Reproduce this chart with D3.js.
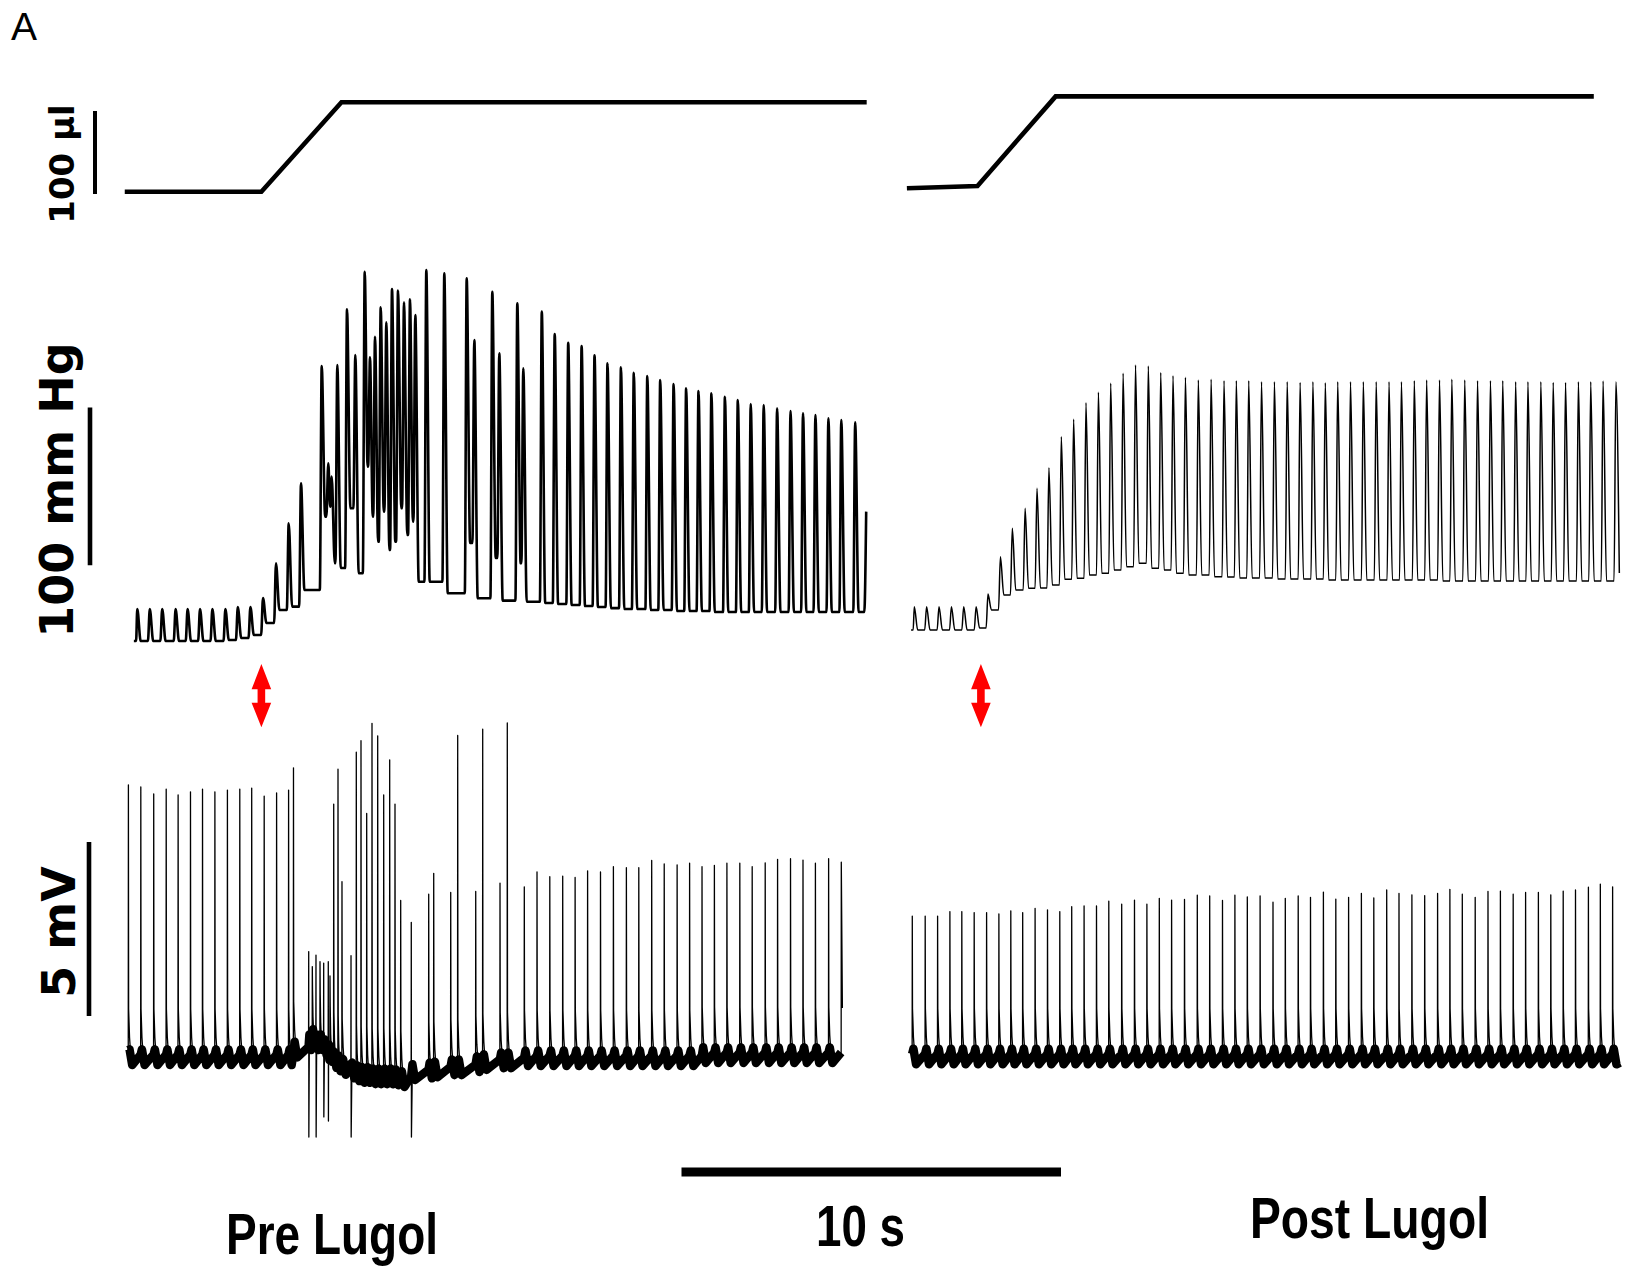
<!DOCTYPE html>
<html>
<head>
<meta charset="utf-8">
<script src="https://cdn.jsdelivr.net/npm/d3@7"></script>
<style>
  html, body { margin: 0; padding: 0; background: #fff; }
  svg { display: block; }
</style>
</head>
<body>
<svg id="fig" width="1626" height="1268"></svg>
<script>
// ---------------- recorded data ----------------
const conditions = ["Pre Lugol", "Post Lugol"];
const panelLetter = "A";
const scaleLabels = ["100 µl", "100 mm Hg", "5 mV", "10 s"];
const scaleValues = [100, 100, 5, 10];   // µl, mmHg, mV, s

// infused volume: time (s), volume (µl)
const preVolumeT  = [0.02, 3.62, 5.73, 19.57];
const preVolumeV  = [10.0, 10.0, 117.7, 117.7];
const postVolumeT = [0.05, 1.91, 3.97, 18.15];
const postVolumeV = [14.1, 16.9, 124.8, 124.8];

// onset of the stretch (s) in each recording
const stretchOnset = [3.62, 2.0];

// pressure beats: time of peak (s), peak (mmHg), trough after the beat (mmHg)
const prePressureStart = [0.26, 5.7];
const prePressureT = [0.350, 0.680, 1.007, 1.360, 1.676, 2.003, 2.329, 2.672, 2.999, 3.331, 3.663,
  4.005, 4.340, 4.664, 5.210, 5.383, 5.473,
  5.621, 5.876, 6.095, 6.343, 6.482, 6.614, 6.764, 6.912, 7.062, 7.220, 7.378, 7.536, 7.676, 7.966, 8.440, 9.030, 9.231, 9.705, 9.889, 10.364, 10.522,
  11.009, 11.349, 11.705, 12.058, 12.398, 12.740, 13.094, 13.433, 13.789, 14.129, 14.482, 14.812, 15.138, 15.478, 15.834, 16.174, 16.514, 16.856, 17.209, 17.563, 17.892, 18.219, 18.561, 18.901, 19.267,
  19.557];
const prePressurePeak = [26.0, 26.0, 26.0, 26.0, 26.0, 26.0, 26.0, 26.0, 27.3, 27.3, 33.0,
  55.0, 80.4, 105.8, 180.2, 118.5, 110.0,
  180.8, 216.2, 187.2, 240.0, 185.7, 198.8, 217.4, 207.9, 229.1, 228.0, 220.6, 222.5, 212.6, 241.1, 239.0, 235.9, 196.7, 227.3, 188.3, 220.0, 178.7,
  214.7, 200.5, 195.0, 192.9, 187.0, 181.9, 179.4, 175.9, 173.9, 171.3, 168.8, 166.1, 164.3, 162.9, 160.7, 158.6, 156.1, 155.5, 153.4, 151.6, 150.2, 149.1, 147.0, 145.9, 144.5,
  87.8];
const prePressureTrough = [5.7, 5.7, 5.7, 5.7, 5.7, 5.7, 5.7, 6.3, 7.6, 9.5, 17.1,
  25.4, 27.5, 38.1, 84.6, 90.9, 55.0,
  52.0, 89.9, 48.7, 116.3, 84.6, 68.7, 87.8, 63.5, 68.7, 89.9, 73.0, 81.4, 43.3, 43.3, 36.0, 67.9, 32.8, 58.4, 31.3, 55.0, 30.6,
  29.8, 29.2, 28.6, 27.9, 27.3, 26.6, 26.0, 26.0, 25.4, 25.4, 24.7, 24.7, 24.7, 24.1, 24.1, 24.1, 24.1, 24.1, 24.1, 24.1, 24.1, 24.1, 24.1, 24.1, 24.1,
  null];

const postPressureStart = [0.16, 12.7];
const postPressureT = [0.245, 0.569, 0.896, 1.223, 1.547, 1.874, 2.187, 2.514, 2.828, 3.165,
  3.478, 3.792, 4.119, 4.443, 4.769, 5.096, 5.420, 5.747, 6.074, 6.411,
  6.738, 7.062, 7.389, 7.729, 8.066, 8.406, 8.730, 9.057, 9.394, 9.734,
  10.071, 10.411, 10.748, 11.075, 11.402, 11.739, 12.077, 12.416, 12.754, 13.081,
  13.420, 13.745, 14.084, 14.409, 14.749, 15.086, 15.426, 15.750, 16.090, 16.414,
  16.754, 17.080, 17.405, 17.744, 18.069, 18.395, 18.733];
const postPressurePeak = [27.5, 27.5, 27.5, 27.5, 27.5, 27.5, 35.5, 59.2, 77.2, 89.9,
  102.6, 115.7, 135.3, 146.4, 156.9, 163.5, 169.2, 175.6, 180.8, 180.2,
  176.0, 174.0, 173.0, 171.3, 171.8, 170.9, 170.9, 170.9, 170.2, 170.2,
  170.2, 169.8, 170.2, 169.6, 170.2, 170.2, 170.2, 170.2, 170.2, 170.2,
  170.9, 171.3, 171.3, 171.8, 171.3, 170.9, 170.9, 170.9, 170.2, 170.2,
  170.2, 169.8, 169.8, 170.2, 170.2, 170.7, 170.2];
const postPressureTrough = [12.7, 12.7, 12.7, 12.7, 12.7, 14.0, 25.4, 34.9, 38.1, 39.2,
  39.3, 41.2, 44.9, 45.5, 47.6, 48.7, 50.8, 52.9, 55.0, 51.8,
  50.8, 48.7, 47.6, 47.6, 46.5, 46.3, 45.7, 45.7, 45.7, 45.1,
  45.1, 45.1, 45.1, 44.4, 44.4, 44.4, 44.4, 44.4, 44.4, 44.4,
  44.4, 44.4, 43.8, 43.8, 43.8, 43.8, 43.8, 43.8, 43.8, 43.8,
  43.8, 43.8, 43.8, 43.8, 43.8, 43.8, 48.9];

// electrical spikes: time (s), peak (mV), level after the spike (mV)
const preElectricStart = [0.087, 0.86];
const preElectricEnd = [18.93, 2.07];
const preSpikeT = [0.116, 0.443, 0.783, 1.112, 1.426, 1.752, 2.069, 2.395, 2.725, 3.051, 3.365, 3.694, 4.021, 4.337, 4.466,
  4.867, 4.962, 5.059, 5.165, 5.262, 5.383, 5.428, 5.526, 5.639, 5.744,
  5.982, 6.121, 6.245, 6.395, 6.535, 6.685, 6.843, 7.001, 7.141, 7.291,
  7.570, 8.029, 8.161, 8.609, 8.793, 9.268, 9.452, 9.908, 10.100, 10.548, 10.883,
  11.220, 11.560, 11.887, 12.216, 12.556, 12.896, 13.238, 13.565, 13.905, 14.235,
  14.575, 14.904, 15.231, 15.557, 15.887, 16.227, 16.553, 16.896, 17.222, 17.563,
  17.892, 18.219, 18.567, 18.901];
const preSpikePeak = [8.48, 8.42, 8.22, 8.36, 8.19, 8.28, 8.36, 8.28, 8.33, 8.36, 8.39, 8.16, 8.25, 8.33, 8.97,
  3.69, 3.26, 3.59, 3.40, 3.36, 3.40, 2.99, 7.93, 8.93, 5.70,
  3.57, 9.42, 9.75, 7.66, 10.25, 9.89, 8.19, 9.20, 7.93, 5.16,
  4.53, 5.34, 5.94, 5.39, 9.90, 5.42, 10.08, 5.66, 10.26, 5.55, 5.98,
  5.84, 5.86, 5.82, 6.01, 5.98, 6.13, 6.10, 6.10, 6.31, 6.21,
  6.18, 6.23, 6.13, 6.17, 6.23, 6.23, 6.13, 6.24, 6.34, 6.36,
  6.32, 6.23, 6.36, 6.26];
const preSpikeLow = [0.43, 0.43, 0.43, 0.43, 0.43, 0.43, 0.43, 0.43, 0.43, 0.43, 0.43, 0.43, 0.43, 0.43, 0.65,
  0.86, 1.01, 0.86, 0.86, 0.72, 0.57, 0.52, 0.35, 0.25, 0.15,
  0.05, -0.03, -0.08, -0.08, -0.12, -0.12, -0.12, -0.12, -0.15, -0.20,
  0.00, 0.05, 0.08, 0.14, 0.14, 0.23, 0.29, 0.34, 0.34, 0.40, 0.40,
  0.40, 0.40, 0.40, 0.40, 0.40, 0.40, 0.40, 0.40, 0.40, 0.40,
  0.40, 0.40, 0.49, 0.49, 0.49, 0.49, 0.49, 0.49, 0.49, 0.49,
  0.49, 0.49, 0.49, 0.49];
// spikes followed by a large negative swing: time (s), minimum (mV)
const preDipT = [4.867, 5.059, 5.262, 5.383, 5.982, 7.570];
const preDipV = [-1.64, -1.64, -1.06, -1.18, -1.64, -1.64];

const postElectricStart = [0.17, 0.75];
const postElectricEnd = [18.84, 0.50];
const postSpikeLow = 0.45;
const postSpikeT = [0.192, 0.532, 0.859, 1.183, 1.497, 1.823, 2.150, 2.474, 2.788, 3.101,
  3.428, 3.755, 4.079, 4.393, 4.719, 5.046, 5.370, 5.710, 6.047, 6.374,
  6.701, 7.025, 7.365, 7.702, 8.029, 8.366, 8.693, 9.020, 9.357, 9.697,
  10.021, 10.361, 10.685, 11.025, 11.352, 11.689, 12.026, 12.353, 12.693, 13.017,
  13.357, 13.694, 14.034, 14.358, 14.685, 15.025, 15.362, 15.689, 16.026, 16.353,
  16.690, 17.017, 17.344, 17.668, 18.008, 18.322, 18.646];
const postSpikePeak = [4.71, 4.71, 4.71, 4.84, 4.84, 4.81, 4.81, 4.77, 4.86, 4.81,
  4.93, 4.89, 4.84, 4.98, 5.00, 5.00, 5.14, 5.05, 5.17, 5.05,
  5.22, 5.17, 5.19, 5.31, 5.29, 5.16, 5.31, 5.26, 5.29, 5.11,
  5.22, 5.29, 5.25, 5.40, 5.20, 5.25, 5.36, 5.23, 5.46, 5.36,
  5.32, 5.30, 5.36, 5.48, 5.34, 5.25, 5.42, 5.43, 5.34, 5.39,
  5.39, 5.32, 5.43, 5.46, 5.54, 5.63, 5.55];

// ---------------- layout ----------------
const W = 1626, H = 1268;
const secPx = 37.95;
const svg = d3.select("#fig");
svg.append("rect").attr("width", W).attr("height", H).attr("fill", "#fff");

const xPre  = d3.scaleLinear().domain([0, 20]).range([124, 124 + 20 * secPx]);
const xPost = d3.scaleLinear().domain([0, 20]).range([905, 905 + 20 * secPx]);
const yVol  = d3.scaleLinear().domain([0, 100]).range([200, 117]);
const yPres = d3.scaleLinear().domain([0, 100]).range([650, 492.4]);
const yElec = d3.scaleLinear().domain([0, 5]).range([1080, 906]);

// ---------------- trace builders ----------------
function pressureTrace(T, P, Tr, start) {
  const pts = [start];
  let prev = start[1];
  for (let i = 0; i < T.length; i++) {
    const gapPrev = i > 0 ? T[i] - T[i - 1] : T[0] - start[0];
    const gapNext = i < T.length - 1 ? T[i + 1] - T[i] : 1;
    const rise = Math.min(0.05, gapPrev * 0.35);
    const fall = Math.min(0.09, gapNext * 0.55);
    pts.push([T[i] - rise, prev]);
    pts.push([T[i], P[i]]);
    if (Tr[i] == null) break;
    pts.push([T[i] + fall, Tr[i]]);
    prev = Tr[i];
  }
  return pts;
}

// thin trace with the spikes, and a continuous thick band for the noisy baseline
function electricTrace(T, V, low, dipT, dipV, start, end, endsOnSpike) {
  const trace = [start];
  const band = [start];
  for (let i = 0; i < T.length; i++) {
    const last = i === T.length - 1;
    const next = last ? end[0] - T[i] : T[i + 1] - T[i];
    const k = Math.min(1, next / 0.16);
    const pre = i === 0 ? start[1] : low[i - 1] + 0.3;
    const up = [T[i] - 0.004, pre];
    trace.push(up);
    band.push(up);
    trace.push([T[i], V[i]]);
    if (last && endsOnSpike) { trace.push(end); return { trace, band }; }
    const di = dipT.findIndex(d => Math.abs(d - T[i]) < 0.002);
    if (di >= 0) {
      trace.push([T[i] + 0.004, dipV[di]]);
      trace.push([T[i] + 0.03 * k, low[i] + 0.5]);
    } else {
      trace.push([T[i] + 0.006, low[i] + 1.6]);
      trace.push([T[i] + 0.03 * k, low[i] + 0.8]);
      trace.push([T[i] + 0.06 * k, low[i] + 0.3]);
    }
    band.push([T[i] + 0.03 * k, low[i] + 0.45]);
    const settle = [T[i] + 0.1 * k, low[i]];
    trace.push(settle);
    band.push(settle);
  }
  trace.push(end);
  band.push(end);
  return { trace, band };
}

function drawLine(pts, x, y, width, curve) {
  const gen = d3.line().x(d => x(d[0])).y(d => y(d[1])).curve(curve || d3.curveLinear);
  return svg.append("path").attr("d", gen(pts)).attr("fill", "none")
    .attr("stroke", "#000").attr("stroke-width", width)
    .attr("stroke-linejoin", "round");
}

// ---------------- volume ----------------
drawLine(d3.zip(preVolumeT, preVolumeV), xPre, yVol, 4.6).attr("stroke-linejoin", "miter");
drawLine(d3.zip(postVolumeT, postVolumeV), xPost, yVol, 4.6).attr("stroke-linejoin", "miter");

// ---------------- pressure ----------------
drawLine(pressureTrace(prePressureT, prePressurePeak, prePressureTrough, prePressureStart),
  xPre, yPres, 2.6, d3.curveMonotoneX);
drawLine(pressureTrace(postPressureT, postPressurePeak, postPressureTrough, postPressureStart),
  xPost, yPres, 1.5, d3.curveMonotoneX);

// ---------------- electrical activity ----------------
function drawElectric(res, x) {
  drawLine(res.band, x, yElec, 8.5).attr("stroke-linecap", "butt");
  drawLine(res.trace, x, yElec, 1.3);
}
drawElectric(electricTrace(preSpikeT, preSpikePeak, preSpikeLow, preDipT, preDipV,
  preElectricStart, preElectricEnd, true), xPre);
drawElectric(electricTrace(postSpikeT, postSpikePeak, postSpikeT.map(() => postSpikeLow), [], [],
  postElectricStart, postElectricEnd, false), xPost);

// ---------------- stretch onset arrows ----------------
function arrow(cx) {
  const top = 664, hb = 689.3, ht = 702.7, bot = 727.3, hw = 9.8, sw = 3.8;
  const p = d3.path();
  p.moveTo(cx, top); p.lineTo(cx + hw, hb); p.lineTo(cx + sw, hb); p.lineTo(cx + sw, ht);
  p.lineTo(cx + hw, ht); p.lineTo(cx, bot); p.lineTo(cx - hw, ht); p.lineTo(cx - sw, ht);
  p.lineTo(cx - sw, hb); p.lineTo(cx - hw, hb); p.closePath();
  svg.append("path").attr("d", p.toString()).attr("fill", "#ff0000");
}
arrow(xPre(stretchOnset[0]));
arrow(xPost(stretchOnset[1]));

// ---------------- scale bars ----------------
function vbar(x, yBottom, len, w) {
  svg.append("line").attr("x1", x).attr("x2", x).attr("y1", yBottom).attr("y2", yBottom - len)
    .attr("stroke", "#000").attr("stroke-width", w);
}
vbar(95, 194, yVol(0) - yVol(scaleValues[0]), 4);
vbar(90, 565.2, yPres(0) - yPres(scaleValues[1]), 4.6);
vbar(89, 1016, yElec(0) - yElec(scaleValues[2]), 4.6);
svg.append("line")
  .attr("x1", 681.5).attr("x2", 681.5 + (xPre(scaleValues[3]) - xPre(0)))
  .attr("y1", 1172).attr("y2", 1172)
  .attr("stroke", "#000").attr("stroke-width", 9);

function vlabel(txt, x, y, size) {
  svg.append("text").attr("transform", `translate(${x},${y}) rotate(-90)`)
    .attr("text-anchor", "middle")
    .attr("font-family", "'DejaVu Sans', Verdana, sans-serif")
    .attr("font-weight", "bold").attr("font-size", size)
    .attr("fill", "#000").text(txt);
}
vlabel(scaleLabels[0], 74, 164, 34);
vlabel(scaleLabels[1], 73, 490, 46);
vlabel(scaleLabels[2], 75, 932, 46);

// ---------------- captions ----------------
function caption(txt, cx, y, len) {
  svg.append("text").attr("x", cx).attr("y", y).attr("text-anchor", "middle")
    .attr("font-family", "'Liberation Sans Narrow', 'Liberation Sans', Arial, sans-serif")
    .attr("font-weight", "bold").attr("font-size", 57)
    .attr("textLength", len).attr("lengthAdjust", "spacingAndGlyphs")
    .attr("fill", "#000").text(txt);
}
caption(conditions[0], 332, 1254, 212);
caption(scaleLabels[3], 860.5, 1245.5, 89);
caption(conditions[1], 1369.5, 1237.7, 239);

svg.append("text").attr("x", 11).attr("y", 40)
  .attr("font-family", "'Liberation Sans', Arial, sans-serif")
  .attr("font-size", 39).attr("fill", "#000").text(panelLetter);
</script>
</body>
</html>
